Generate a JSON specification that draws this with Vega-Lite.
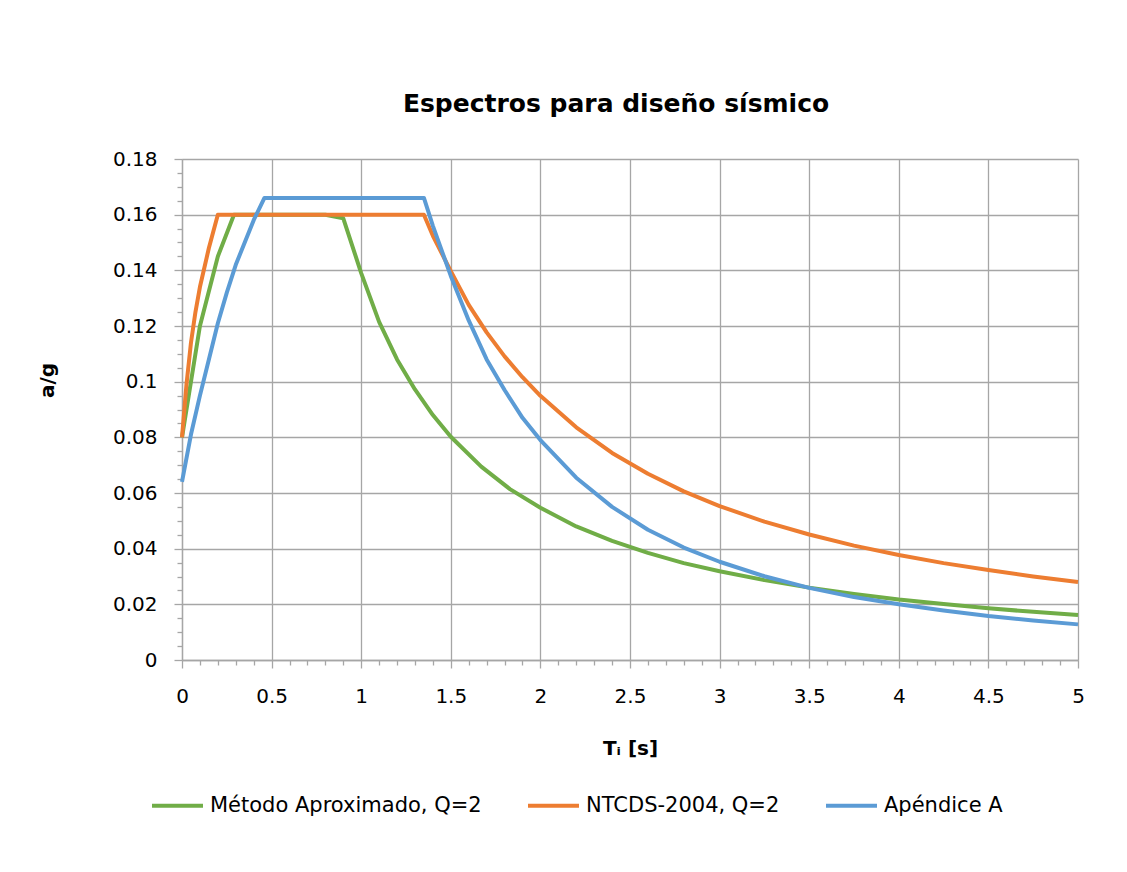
{
  "$schema": "https://vega.github.io/schema/vega-lite/v6.json",
  "width": 896,
  "height": 501,
  "autosize": {"type": "none"},
  "padding": {"left": 182, "top": 159, "right": 49, "bottom": 212},
  "background": "white",
  "title": {
    "text": "Espectros para diseño sísmico",
    "font": "DejaVu Sans",
    "fontSize": 25,
    "fontWeight": "bold",
    "color": "#000000",
    "anchor": "middle",
    "dx": -14,
    "offset": 32
  },
  "config": {
    "view": {"stroke": null},
    "font": "DejaVu Sans"
  },
  "data": {
    "values": [
      {"s": "Método Aproximado, Q=2", "T": 0, "a": 0.08},
      {"s": "Método Aproximado, Q=2", "T": 0.1, "a": 0.12},
      {"s": "Método Aproximado, Q=2", "T": 0.2, "a": 0.145},
      {"s": "Método Aproximado, Q=2", "T": 0.29, "a": 0.16},
      {"s": "Método Aproximado, Q=2", "T": 0.4, "a": 0.16},
      {"s": "Método Aproximado, Q=2", "T": 0.5, "a": 0.16},
      {"s": "Método Aproximado, Q=2", "T": 0.6, "a": 0.16},
      {"s": "Método Aproximado, Q=2", "T": 0.7, "a": 0.16},
      {"s": "Método Aproximado, Q=2", "T": 0.8, "a": 0.16},
      {"s": "Método Aproximado, Q=2", "T": 0.9, "a": 0.1587},
      {"s": "Método Aproximado, Q=2", "T": 1.0, "a": 0.139},
      {"s": "Método Aproximado, Q=2", "T": 1.1, "a": 0.1215},
      {"s": "Método Aproximado, Q=2", "T": 1.2, "a": 0.108},
      {"s": "Método Aproximado, Q=2", "T": 1.3, "a": 0.0972},
      {"s": "Método Aproximado, Q=2", "T": 1.4, "a": 0.088},
      {"s": "Método Aproximado, Q=2", "T": 1.5, "a": 0.0802},
      {"s": "Método Aproximado, Q=2", "T": 1.67, "a": 0.0695},
      {"s": "Método Aproximado, Q=2", "T": 1.83, "a": 0.0614},
      {"s": "Método Aproximado, Q=2", "T": 2.0, "a": 0.0547},
      {"s": "Método Aproximado, Q=2", "T": 2.2, "a": 0.048},
      {"s": "Método Aproximado, Q=2", "T": 2.4, "a": 0.0428},
      {"s": "Método Aproximado, Q=2", "T": 2.6, "a": 0.0385},
      {"s": "Método Aproximado, Q=2", "T": 2.8, "a": 0.0348},
      {"s": "Método Aproximado, Q=2", "T": 3.0, "a": 0.0319},
      {"s": "Método Aproximado, Q=2", "T": 3.25, "a": 0.0287},
      {"s": "Método Aproximado, Q=2", "T": 3.5, "a": 0.026},
      {"s": "Método Aproximado, Q=2", "T": 3.75, "a": 0.0237},
      {"s": "Método Aproximado, Q=2", "T": 4.0, "a": 0.0217},
      {"s": "Método Aproximado, Q=2", "T": 4.25, "a": 0.0201},
      {"s": "Método Aproximado, Q=2", "T": 4.5, "a": 0.0186},
      {"s": "Método Aproximado, Q=2", "T": 4.75, "a": 0.0173},
      {"s": "Método Aproximado, Q=2", "T": 5.0, "a": 0.0162},
      {"s": "NTCDS-2004, Q=2", "T": 0, "a": 0.08},
      {"s": "NTCDS-2004, Q=2", "T": 0.025, "a": 0.099},
      {"s": "NTCDS-2004, Q=2", "T": 0.05, "a": 0.114},
      {"s": "NTCDS-2004, Q=2", "T": 0.075, "a": 0.125},
      {"s": "NTCDS-2004, Q=2", "T": 0.1, "a": 0.134},
      {"s": "NTCDS-2004, Q=2", "T": 0.15, "a": 0.148},
      {"s": "NTCDS-2004, Q=2", "T": 0.2, "a": 0.16},
      {"s": "NTCDS-2004, Q=2", "T": 1.35, "a": 0.16},
      {"s": "NTCDS-2004, Q=2", "T": 1.4, "a": 0.1524},
      {"s": "NTCDS-2004, Q=2", "T": 1.5, "a": 0.1397},
      {"s": "NTCDS-2004, Q=2", "T": 1.6, "a": 0.1276},
      {"s": "NTCDS-2004, Q=2", "T": 1.7, "a": 0.1177},
      {"s": "NTCDS-2004, Q=2", "T": 1.8, "a": 0.1091},
      {"s": "NTCDS-2004, Q=2", "T": 1.9, "a": 0.1016},
      {"s": "NTCDS-2004, Q=2", "T": 2.0, "a": 0.0949},
      {"s": "NTCDS-2004, Q=2", "T": 2.2, "a": 0.0836},
      {"s": "NTCDS-2004, Q=2", "T": 2.4, "a": 0.0744},
      {"s": "NTCDS-2004, Q=2", "T": 2.6, "a": 0.0669},
      {"s": "NTCDS-2004, Q=2", "T": 2.8, "a": 0.0606},
      {"s": "NTCDS-2004, Q=2", "T": 3.0, "a": 0.0553},
      {"s": "NTCDS-2004, Q=2", "T": 3.25, "a": 0.0497},
      {"s": "NTCDS-2004, Q=2", "T": 3.5, "a": 0.0451},
      {"s": "NTCDS-2004, Q=2", "T": 3.75, "a": 0.0411},
      {"s": "NTCDS-2004, Q=2", "T": 4.0, "a": 0.0377},
      {"s": "NTCDS-2004, Q=2", "T": 4.25, "a": 0.0348},
      {"s": "NTCDS-2004, Q=2", "T": 4.5, "a": 0.0323},
      {"s": "NTCDS-2004, Q=2", "T": 4.75, "a": 0.03},
      {"s": "NTCDS-2004, Q=2", "T": 5.0, "a": 0.028},
      {"s": "Apéndice A", "T": 0, "a": 0.064},
      {"s": "Apéndice A", "T": 0.05, "a": 0.081},
      {"s": "Apéndice A", "T": 0.1, "a": 0.095},
      {"s": "Apéndice A", "T": 0.15, "a": 0.108},
      {"s": "Apéndice A", "T": 0.2, "a": 0.121},
      {"s": "Apéndice A", "T": 0.25, "a": 0.132},
      {"s": "Apéndice A", "T": 0.3, "a": 0.142},
      {"s": "Apéndice A", "T": 0.35, "a": 0.15},
      {"s": "Apéndice A", "T": 0.4, "a": 0.158},
      {"s": "Apéndice A", "T": 0.46, "a": 0.166},
      {"s": "Apéndice A", "T": 1.35, "a": 0.166},
      {"s": "Apéndice A", "T": 1.4, "a": 0.156},
      {"s": "Apéndice A", "T": 1.5, "a": 0.138},
      {"s": "Apéndice A", "T": 1.6, "a": 0.122},
      {"s": "Apéndice A", "T": 1.7, "a": 0.108},
      {"s": "Apéndice A", "T": 1.8, "a": 0.097},
      {"s": "Apéndice A", "T": 1.9, "a": 0.087},
      {"s": "Apéndice A", "T": 2.0, "a": 0.079},
      {"s": "Apéndice A", "T": 2.2, "a": 0.0655},
      {"s": "Apéndice A", "T": 2.4, "a": 0.055},
      {"s": "Apéndice A", "T": 2.6, "a": 0.0468},
      {"s": "Apéndice A", "T": 2.8, "a": 0.0404},
      {"s": "Apéndice A", "T": 3.0, "a": 0.0353},
      {"s": "Apéndice A", "T": 3.25, "a": 0.0301},
      {"s": "Apéndice A", "T": 3.5, "a": 0.0259},
      {"s": "Apéndice A", "T": 3.75, "a": 0.0226},
      {"s": "Apéndice A", "T": 4.0, "a": 0.02},
      {"s": "Apéndice A", "T": 4.25, "a": 0.0178},
      {"s": "Apéndice A", "T": 4.5, "a": 0.0158},
      {"s": "Apéndice A", "T": 4.75, "a": 0.0142},
      {"s": "Apéndice A", "T": 5.0, "a": 0.0128}
    ]
  },
  "mark": {"type": "line", "strokeWidth": 4, "strokeJoin": "round", "strokeCap": "butt"},
  "encoding": {
    "x": {
      "field": "T",
      "type": "quantitative",
      "scale": {"domain": [0, 5], "nice": false, "zero": false},
      "axis": {
        "title": "Tᵢ [s]",
        "titleFont": "DejaVu Sans",
        "titleFontSize": 20,
        "titleFontWeight": "bold",
        "titleColor": "#000000",
        "titleBaseline": "middle",
        "titleX": 448,
        "titleY": 88,
        "values": [0,0.1,0.2,0.3,0.4,0.5,0.6,0.7,0.8,0.9,1,1.1,1.2,1.3,1.4,1.5,1.6,1.7,1.8,1.9,2,2.1,2.2,2.3,2.4,2.5,2.6,2.7,2.8,2.9,3,3.1,3.2,3.3,3.4,3.5,3.6,3.7,3.8,3.9,4,4.1,4.2,4.3,4.4,4.5,4.6,4.7,4.8,4.9,5],
        "labelExpr": "abs(datum.value*2-round(datum.value*2))<0.001 ? ''+round(datum.value*2)/2 : ''",
        "labelFont": "DejaVu Sans",
        "labelFontSize": 20,
        "labelColor": "#000000",
        "labelPadding": 18,
        "labelOverlap": false,
        "labelBound": false,
        "labelFlush": false,
        "tickColor": "#a6a6a6",
        "tickWidth": 1.3,
        "tickSize": {"condition": {"test": "abs(datum.value*2-round(datum.value*2))<0.001", "value": 8}, "value": 5},
        "domainColor": "#a6a6a6",
        "domainWidth": 1.3,
        "grid": true,
        "gridColor": "#a6a6a6",
        "gridWidth": 1.3,
        "gridOpacity": {"condition": {"test": "abs(datum.value*2-round(datum.value*2))<0.001", "value": 1}, "value": 0}
      }
    },
    "y": {
      "field": "a",
      "type": "quantitative",
      "scale": {"domain": [0, 0.18], "nice": false},
      "axis": {
        "title": "a/g",
        "titleFont": "DejaVu Sans",
        "titleFontSize": 20,
        "titleFontWeight": "bold",
        "titleColor": "#000000",
        "titleBaseline": "middle",
        "titleAngle": -90,
        "titleX": -135,
        "titleY": 221,
        "values": [0,0.005,0.01,0.015,0.02,0.025,0.03,0.035,0.04,0.045,0.05,0.055,0.06,0.065,0.07,0.075,0.08,0.085,0.09,0.095,0.1,0.105,0.11,0.115,0.12,0.125,0.13,0.135,0.14,0.145,0.15,0.155,0.16,0.165,0.17,0.175,0.18],
        "labelExpr": "abs(datum.value*50-round(datum.value*50))<0.001 ? ''+round(datum.value*50)/50 : ''",
        "labelFont": "DejaVu Sans",
        "labelFontSize": 20,
        "labelColor": "#000000",
        "labelPadding": 17,
        "labelOverlap": false,
        "labelBound": false,
        "labelFlush": false,
        "tickColor": "#a6a6a6",
        "tickWidth": 1.3,
        "tickSize": {"condition": {"test": "abs(datum.value*50-round(datum.value*50))<0.001", "value": 8}, "value": 5},
        "domainColor": "#a6a6a6",
        "domainWidth": 1.3,
        "grid": true,
        "gridColor": "#a6a6a6",
        "gridWidth": 1.3,
        "gridOpacity": {"condition": {"test": "abs(datum.value*50-round(datum.value*50))<0.001", "value": 1}, "value": 0}
      }
    },
    "color": {
      "field": "s",
      "type": "nominal",
      "sort": ["Método Aproximado, Q=2", "NTCDS-2004, Q=2", "Apéndice A"],
      "scale": {
        "domain": ["Método Aproximado, Q=2", "NTCDS-2004, Q=2", "Apéndice A"],
        "range": ["#70AD47", "#ED7D31", "#5B9BD5"]
      },
      "legend": {
        "title": null,
        "orient": "none",
        "direction": "horizontal",
        "legendX": -32,
        "legendY": 619,
        "symbolType": "stroke",
        "symbolSize": 2600,
        "symbolStrokeWidth": 4,
        "labelFont": "DejaVu Sans",
        "labelFontSize": 21,
        "labelColor": "#000000",
        "labelOffset": 5,
        "columnPadding": 38,
        "labelLimit": 400
      }
    },
    "order": {"field": "T", "type": "quantitative"}
  }
}
